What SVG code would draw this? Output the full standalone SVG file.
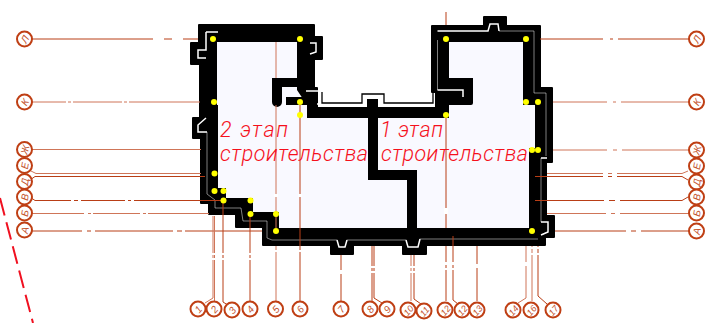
<svg xmlns="http://www.w3.org/2000/svg" width="712" height="323" viewBox="0 0 712 323">
<style>
.b circle{fill:#fff;stroke:#bf3f14;stroke-width:2}
.b text{font-family:"Liberation Sans",sans-serif;font-style:italic;font-size:10px;fill:#c4542e;text-anchor:middle}
.g path{fill:none;stroke-width:1}
.d{stroke:#b93e16}
.l{stroke:#cf7558;stroke-width:1.4}
.gap{stroke:#fff;stroke-width:.5;fill:none}
.hol{stroke:#fff;stroke-width:1.500;fill:none}
.k{fill:#000}
.y{fill:#ff0}
.t{font-family:Roboto,"Liberation Sans",sans-serif;font-style:italic;font-weight:300;font-size:21.500px;fill:#f5101c}
</style>
<rect width="712" height="323" fill="#fff"/>
<g id="walls">
<path class="k" stroke="#000" stroke-width="2" stroke-linejoin="round" d="M199,25 H314 V37 H322 V59 H314 V88 H317 V108 H436 V92 H432 V26 H484 V17 H506 V26 H540 V88 H552 V162 H546 V216 H554 V237 H545 V245 H426 V254 H403 V245 H353 V254 H331 V245 H263 V227 H236 V214 H209 V203 H201 V138 H193 V118 H200 V64 H191 V43 H199 Z"/>
<path fill="#f9f9ff" d="M217,42 H297 V90 L307,105 V118 H449 V42 H523 V105 H535 V148 H529 V228 H279 V212 H253 V198 H226 V188 H218 V105 H217 Z"/>
<path class="k" d="M272,78 H298 V87 H282 V102 A5,5 0 0 1 272,102 Z M286,97 H308 V105 H286 Z M449,78 H473 V103 Q473,105 471,105 H449 Z M368,117 H378 V170 H417 V229 H407 V180 H368 Z"/>
<path class="gap" d="M207,132 V194 L215,200 V208 H241 L243,221 H267 V238 L272,240 H337 M347,240 H406 M420,239 H538 M541,158 V222 M437.500,40 V90 M499,31 H534 V93 H546 V156"/>
<path class="hol" d="M206,32 H218 M206,32 V50 H198 V58 H206 M206,118 L198,125 V132 H207 M310,43 H316 V52 L310,54 M306,91 H321 V104 H317 M437.500,31 H488 L490,24 H498 L499,31 M437.500,90 H463 V97 M541,158 H547 M541,222 H548 V232 L541,235 M337,240 L339,247 H345 L347,240 M406,240 L408,247 H418 L420,239"/>
<path fill="none" stroke="#000" stroke-width="1.300" d="M322,92 V103 H362 V94 H384 V103 H433 V92"/>
<rect class="k" x="367" y="99" width="11" height="9"/>
</g>
<g id="connectors" class="g">
<path class="d" d="M32,39 H198 M540,39 H689 M32,231 H262 M555,231 H689 M35,200.500 L30,197 M35,200.500 H224 M535,200.500 H682 L688,197 M205,176.500 H35 L30,180 M535,176.500 H682 L688,180 M223,200 V302 L231,307 M250,216 V301 M300,105 V301 M446,12 V25 M446,118 V228 M446,246 V301 M341,255 V301 M372,246 V301 M374,246 V298 L382,303 M414,255 V299 L421,304 M453,236 V300 L458,304 M477,246 V301 M538,246 V296 L547,304"/>
<path class="l" d="M32,102 H200 M553,102 H689 M32,149.500 H201 M553,150 H689 M36,173.500 L31,171 M36,173.500 H201 M547,173.500 H682 L688,171 M32,213.500 H209 M547,213.500 H689 M213,216 V298 L205,303 M214.500,216 V301 M276,42 V78 M276,105 V228 M276,246 V301 M411,255 V301 M526,246 V298 L518,303 M532,246 V301"/>
</g>
<g id="axis-gaps" fill="#fff">
<rect x="153" y="37" width="11" height="4"/><rect x="172" y="37" width="11" height="4"/>
<rect x="66" y="100" width="2" height="4"/><rect x="71" y="100" width="2" height="4"/><rect x="122" y="100" width="2" height="4"/><rect x="127" y="100" width="2" height="4"/>
<rect x="71" y="198" width="3" height="5"/><rect x="78" y="198" width="3" height="5"/><rect x="125" y="198" width="3" height="5"/><rect x="131" y="198" width="3" height="5"/><rect x="84" y="211" width="4" height="5"/><rect x="91" y="211" width="2" height="5"/><rect x="140" y="211" width="3" height="5"/><rect x="146" y="211" width="2" height="5"/><rect x="82" y="229" width="5" height="4"/><rect x="91" y="229" width="4" height="4"/><rect x="173" y="229" width="4" height="4"/><rect x="182" y="229" width="3" height="4"/>
<rect x="603" y="37" width="7" height="4"/><rect x="613" y="37" width="5" height="4"/><rect x="607" y="100" width="6" height="4"/><rect x="616" y="100" width="5" height="4"/><rect x="607" y="148" width="6" height="4"/><rect x="617" y="148" width="5" height="4"/><rect x="603" y="171" width="5" height="8"/><rect x="612" y="171" width="5" height="8"/><rect x="604" y="198" width="5" height="5"/><rect x="615" y="198" width="5" height="5"/><rect x="606" y="211" width="5" height="5"/><rect x="615" y="211" width="5" height="5"/><rect x="626" y="229" width="5" height="4"/><rect x="636" y="229" width="5" height="4"/>
<rect x="210" y="253" width="16" height="2"/><rect x="210" y="258" width="16" height="2"/><rect x="248" y="253" width="4" height="2"/><rect x="248" y="258" width="4" height="2"/><rect x="274" y="250" width="4" height="2"/><rect x="298" y="250" width="4" height="2"/><rect x="339" y="270" width="4" height="4"/><rect x="370" y="266" width="6" height="2"/><rect x="370" y="271" width="6" height="2"/><rect x="409" y="266" width="7" height="2"/><rect x="409" y="271" width="7" height="2"/><rect x="444" y="262" width="11" height="3"/><rect x="444" y="268" width="11" height="2"/><rect x="475" y="264" width="4" height="4"/><rect x="524" y="262" width="4" height="4"/><rect x="530" y="247" width="10" height="2"/><rect x="530" y="253" width="10" height="2"/>
<rect x="274" y="194" width="4" height="3"/><rect x="298" y="194" width="4" height="3"/><rect x="444" y="208" width="4" height="6"/>
</g>
<g id="label-stage-2"><text class="t" x="220" y="137" textLength="68" lengthAdjust="spacing">2 этап</text><text class="t" x="220" y="161" textLength="148" lengthAdjust="spacing">строительства</text></g>
<g id="label-stage-1"><text class="t" x="380" y="137" textLength="63" lengthAdjust="spacing">1 этап</text><text class="t" x="381" y="161" textLength="147" lengthAdjust="spacing">строительства</text></g>
<g id="points" class="y">
<circle cx="213" cy="39" r="3"/><circle cx="300" cy="39" r="3"/><circle cx="214" cy="102" r="3"/><circle cx="300" cy="102" r="3"/><circle cx="300" cy="115" r="3"/><circle cx="214.500" cy="173.500" r="3"/><circle cx="214.500" cy="191" r="3"/><circle cx="223.500" cy="191" r="3"/><circle cx="223.500" cy="200.500" r="3"/><circle cx="250.500" cy="200.500" r="3"/><circle cx="250.500" cy="214" r="3"/><circle cx="276" cy="214" r="3"/><circle cx="276" cy="231" r="3"/><circle cx="446" cy="115" r="3"/><circle cx="446" cy="39" r="3"/><circle cx="526" cy="39" r="3"/><circle cx="526" cy="102" r="3"/><circle cx="538" cy="102" r="3"/><circle cx="532" cy="150" r="3"/><circle cx="538" cy="150" r="3"/><circle cx="532" cy="231" r="3"/>
</g>
<g id="axis-l" class="b"><circle cx="24.500" cy="39" r="7.500"/><text transform="translate(24.500,39) rotate(-60)" y="4">Л</text></g>
<g id="axis-k" class="b"><circle cx="24.500" cy="102" r="7.500"/><text transform="translate(24.500,102) rotate(-60)" y="4">К</text></g>
<g id="axis-zh" class="b"><circle cx="24.500" cy="149.500" r="7.500"/><text transform="translate(24.500,149.500) rotate(-75)" y="4">Ж</text></g>
<g id="axis-e" class="b"><circle cx="24.500" cy="165.500" r="7.500"/><text transform="translate(24.500,165.500) rotate(-80)" y="4">Е</text></g>
<g id="axis-d" class="b"><circle cx="24.500" cy="181.500" r="7.500"/><text transform="translate(24.500,181.500) rotate(-80)" y="4">Д</text></g>
<g id="axis-v" class="b"><circle cx="24.500" cy="197" r="7.500"/><text transform="translate(24.500,197) rotate(-80)" y="4">В</text></g>
<g id="axis-b" class="b"><circle cx="24.500" cy="213" r="7.500"/><text transform="translate(24.500,213) rotate(-80)" y="4">Б</text></g>
<g id="axis-a" class="b"><circle cx="24.500" cy="230" r="7.500"/><text transform="translate(24.500,230) rotate(-80)" y="4">А</text></g>
<g id="axis-l-r" class="b"><circle cx="696.500" cy="39" r="7.500"/><text transform="translate(696.500,39) rotate(-60)" y="4">Л</text></g>
<g id="axis-k-r" class="b"><circle cx="696.500" cy="102" r="7.500"/><text transform="translate(696.500,102) rotate(-60)" y="4">К</text></g>
<g id="axis-zh-r" class="b"><circle cx="696.500" cy="150" r="7.500"/><text transform="translate(696.500,150) rotate(-75)" y="4">Ж</text></g>
<g id="axis-e-r" class="b"><circle cx="696.500" cy="166" r="7.500"/><text transform="translate(696.500,166) rotate(-80)" y="4">Е</text></g>
<g id="axis-d-r" class="b"><circle cx="696.500" cy="182" r="7.500"/><text transform="translate(696.500,182) rotate(-80)" y="4">Д</text></g>
<g id="axis-v-r" class="b"><circle cx="696.500" cy="197" r="7.500"/><text transform="translate(696.500,197) rotate(-80)" y="4">В</text></g>
<g id="axis-b-r" class="b"><circle cx="696.500" cy="213" r="7.500"/><text transform="translate(696.500,213) rotate(-80)" y="4">Б</text></g>
<g id="axis-a-r" class="b"><circle cx="696.500" cy="231" r="7.500"/><text transform="translate(696.500,231) rotate(-80)" y="4">А</text></g>
<g id="axis-1" class="b"><circle cx="198" cy="309" r="7.500"/><text transform="translate(198,309) rotate(-50)" y="4">1</text></g>
<g id="axis-2" class="b"><circle cx="214" cy="309" r="7.500"/><text transform="translate(214,309) rotate(-50)" y="4">2</text></g>
<g id="axis-3" class="b"><circle cx="232" cy="310" r="7.500"/><text transform="translate(232,310) rotate(-50)" y="4">3</text></g>
<g id="axis-4" class="b"><circle cx="250" cy="309" r="7.500"/><text transform="translate(250,309) rotate(-50)" y="4">4</text></g>
<g id="axis-5" class="b"><circle cx="275.500" cy="309" r="7.500"/><text transform="translate(275.500,309) rotate(-50)" y="4">5</text></g>
<g id="axis-6" class="b"><circle cx="300" cy="309" r="7.500"/><text transform="translate(300,309) rotate(-50)" y="4">6</text></g>
<g id="axis-7" class="b"><circle cx="341" cy="309" r="7.500"/><text transform="translate(341,309) rotate(-50)" y="4">7</text></g>
<g id="axis-8" class="b"><circle cx="370" cy="309" r="7.500"/><text transform="translate(370,309) rotate(-50)" y="4">8</text></g>
<g id="axis-9" class="b"><circle cx="387" cy="309" r="7.500"/><text transform="translate(387,309) rotate(-50)" y="4">9</text></g>
<g id="axis-10" class="b"><circle cx="408" cy="310" r="7.500"/><text transform="translate(408,310) rotate(-50)" y="4" style="font-size:9px">10</text></g>
<g id="axis-11" class="b"><circle cx="424" cy="311" r="7.500"/><text transform="translate(424,311) rotate(-50)" y="4" style="font-size:9px">11</text></g>
<g id="axis-12" class="b"><circle cx="445" cy="310" r="7.500"/><text transform="translate(445,310) rotate(-50)" y="4" style="font-size:9px">12</text></g>
<g id="axis-12b" class="b"><circle cx="462" cy="310" r="7.500"/><text transform="translate(462,310) rotate(-50)" y="4" style="font-size:9px">12</text></g>
<g id="axis-13" class="b"><circle cx="477" cy="310" r="7.500"/><text transform="translate(477,310) rotate(-50)" y="4" style="font-size:9px">13</text></g>
<g id="axis-14" class="b"><circle cx="513" cy="310" r="7.500"/><text transform="translate(513,310) rotate(-50)" y="4" style="font-size:9px">14</text></g>
<g id="axis-16" class="b"><circle cx="531" cy="310" r="7.500"/><text transform="translate(531,310) rotate(-50)" y="4" style="font-size:9px">16</text></g>
<g id="axis-17" class="b"><circle cx="553" cy="310" r="7.500"/><text transform="translate(553,310) rotate(-50)" y="4" style="font-size:9px">17</text></g>
<path id="boundary" d="M0,198 L33,323" fill="none" stroke="#f01020" stroke-width="2" stroke-dasharray="18 7"/>
</svg>
